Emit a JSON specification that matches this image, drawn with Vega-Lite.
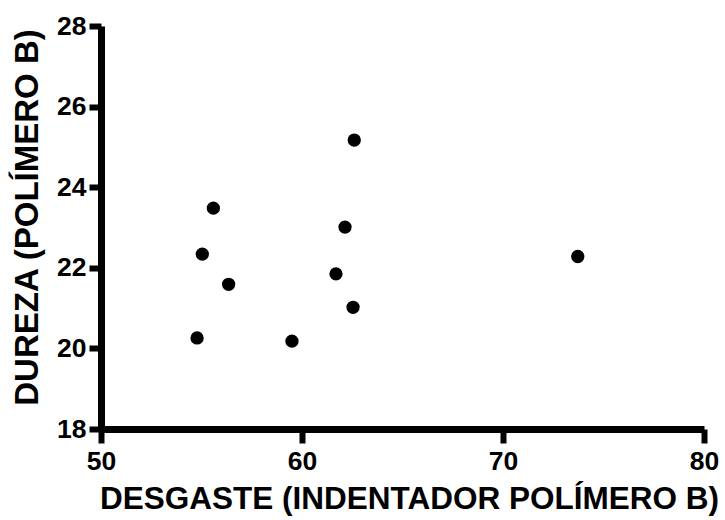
{
  "$schema": "https://vega.github.io/schema/vega-lite/v6.json",
  "width": 603,
  "height": 403,
  "autosize": {"type": "none"},
  "padding": {"left": 101, "top": 26, "right": 21, "bottom": 91},
  "background": "white",
  "config": {
    "view": {"stroke": null},
    "font": "Liberation Sans"
  },
  "data": {
    "values": [
      {"desgaste": 62.6, "dureza": 25.17},
      {"desgaste": 55.59, "dureza": 23.48},
      {"desgaste": 62.14, "dureza": 23.01},
      {"desgaste": 55.04, "dureza": 22.34},
      {"desgaste": 73.72, "dureza": 22.28},
      {"desgaste": 61.69, "dureza": 21.85},
      {"desgaste": 56.35, "dureza": 21.59},
      {"desgaste": 62.54, "dureza": 21.02},
      {"desgaste": 54.78, "dureza": 20.26},
      {"desgaste": 59.5, "dureza": 20.18}
    ]
  },
  "mark": {"type": "point", "filled": true, "color": "black", "opacity": 1, "size": 177},
  "encoding": {
    "x": {
      "field": "desgaste",
      "type": "quantitative",
      "scale": {"domain": [50, 80], "nice": false, "zero": false},
      "axis": {
        "title": "DESGASTE (INDENTADOR POLÍMERO B)",
        "values": [50, 60, 70, 80],
        "grid": false,
        "labelFlush": false,
        "labelOverlap": false,
        "domainColor": "black",
        "domainWidth": 7,
        "tickColor": "black",
        "tickWidth": 6,
        "tickSize": 14,
        "labelFont": "Liberation Sans",
        "labelFontWeight": "bold",
        "labelFontSize": 26.5,
        "labelColor": "black",
        "labelPadding": 5,
        "titleFont": "Liberation Sans",
        "titleFontWeight": "bold",
        "titleFontSize": 31.5,
        "titleColor": "black",
        "titleBaseline": "alphabetic",
        "titleX": 308,
        "titleY": 79
      }
    },
    "y": {
      "field": "dureza",
      "type": "quantitative",
      "scale": {"domain": [18, 28], "nice": false, "zero": false},
      "axis": {
        "title": "DUREZA (POLÍMERO B)",
        "values": [18, 20, 22, 24, 26, 28],
        "grid": false,
        "labelFlush": false,
        "labelOverlap": false,
        "domainColor": "black",
        "domainWidth": 7,
        "tickColor": "black",
        "tickWidth": 6,
        "tickSize": 12,
        "labelFont": "Liberation Sans",
        "labelFontWeight": "bold",
        "labelFontSize": 26.5,
        "labelColor": "black",
        "labelPadding": 3,
        "titleFont": "Liberation Sans",
        "titleFontWeight": "bold",
        "titleFontSize": 33,
        "titleColor": "black",
        "titleBaseline": "alphabetic",
        "titleX": -64,
        "titleY": 191
      }
    }
  }
}
